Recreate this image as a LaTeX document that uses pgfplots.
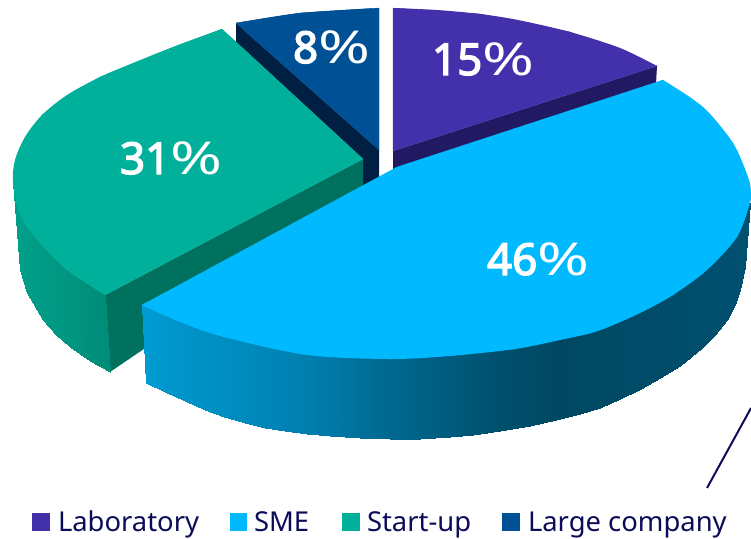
\documentclass[border=0pt]{standalone}
\usepackage{graphicx}
\usepackage{pgfplots}
\pgfplotsset{compat=1.18}
\usepackage{fontspec}
\setmainfont{Noto Sans}
\newfontfamily\labfont{Noto Sans}[FakeBold=3]
\newcommand{\pct}{\scalebox{1.42}[1.03]{\normalfont\fontsize{44}{50}\selectfont\%}}
\definecolor{cpurple}{HTML}{4330AB}
\definecolor{cpurpled}{HTML}{211A63}
\definecolor{cblue}{HTML}{00B9FF}
\definecolor{cgreen}{HTML}{00B09B}
\definecolor{cgreend}{HTML}{00705F}
\definecolor{cnavy}{HTML}{005095}
\definecolor{cnavyd}{HTML}{001F42}
\definecolor{ctext}{HTML}{0B0B5A}
\pgfplotstableread{
x y c
142 305 0
165 302 2.3
185 311 4.2
205 320 6.2
224 327 8.1
245 333 10.1
265 338 12.1
285 341 14.1
307 343 16.3
330 346 18.5
360 348 21.5
390 349 24.4
420 348 27.4
450 346 30.3
473 345 32.6
500 340 35.3
530 335 38.2
556 330 40.8
580 323 43.1
600 317 45.1
620 310 47.1
639 303 49
660 292 51
680 278 53
702 262 55.2
715 250 56.4
727 235 57.4
735 225 58.4
740 215 59.1
745 205 59.6
750 203 60
146 383 0
165 392 2.3
185 401 4.2
205 410 6.2
224 417 8.1
245 423 10.1
265 428 12.1
285 431 14.1
307 433.5 16.3
330 436 18.5
360 438 21.5
390 439 24.4
420 438.5 27.4
450 436.5 30.3
473 435 32.6
500 431 35.3
530 425.5 38.2
556 420 40.8
580 413.5 43.1
600 407.5 45.1
620 399 47.1
639 390 49
660 378 51
680 366 53
702 348 55.2
715 335 56.4
727 320 57.4
735 305 58.4
740 290 59.1
745 267 59.6
750 203 60
}\smeside
\pgfplotstableread{
x y c
13 182 70
30 215 74
42 235 78
55 250 82
67 262 86
85 275 93
105 295 100
20 270 70
27 293 74
43 320 78
56 335 82
70 347 86
90 361 93
110 372 100
}\startside
\begin{document}
\begin{tikzpicture}
\begin{axis}[scale only axis,width=751pt,height=538pt,xmin=0,xmax=751,ymin=0,ymax=538,
  y dir=reverse,axis lines=none,clip=true,
  point meta min=0,point meta max=100,
  colormap={side}{rgb255(0pt)=(0,155,210) rgb255(16pt)=(0,128,176) rgb255(24pt)=(0,105,145)
   rgb255(35pt)=(0,80,110) rgb255(41pt)=(0,72,98) rgb255(60pt)=(0,80,112)
   rgb255(70pt)=(0,160,138) rgb255(100pt)=(0,140,120)}]
\path (axis cs:0,0) rectangle (axis cs:751,538);
% Large company
\addplot[fill=cnavyd,draw=none] coordinates {(236,23)(379,150)(379,177)(363,190)(363,159)(236,42)} -- cycle;
\addplot[fill=cnavy,draw=cnavy,line width=0.2pt] coordinates {(236,23)(300,13)(379,8)(379,150)} -- cycle;
\addplot[fill=cnavy,draw=none,smooth] coordinates {(236,23)(300,13)(379,8)};
% Laboratory
\addplot[fill=cpurpled,draw=none] coordinates {(393,151)(657,66)(656,84)(393,172)} -- cycle;
\addplot[fill=cpurple,draw=cpurple,line width=0.2pt] coordinates {(393,8)(480,14)(570,32)(657,66)(393,151)} -- cycle;
\addplot[fill=cpurple,draw=none,smooth] coordinates {(393,8)(437,10)(480,14)(518,20)(570,32)(620,48)(657,66)};
% Start-up
\addplot[fill=cgreend,draw=none] coordinates {(105,295)(363,159)(363,184)(363,200)(110,372)} -- cycle;
\addplot[surf,shader=interp,mesh/rows=2,point meta=\thisrow{c}] table[x=x,y=y] {\startside};
\addplot[fill=cgreen,draw=cgreen,line width=0.2pt] coordinates {(222,29)(100,77)(42,115)(13,182)(40,243)(67,270)(105,295)(363,159)} -- cycle;
\addplot[fill=cgreen,draw=none,smooth] coordinates {(222,29)(178,45)(133,63)(100,77)(67,95)(42,115)(25,137)(15,160)(13,182)(20,215)(40,243)(67,270)(105,295)};
% SME
\addplot[surf,shader=interp,mesh/rows=2,point meta=\thisrow{c}] table[x=x,y=y] {\smeside};
\addplot[fill=cblue,draw=cblue,line width=0.2pt] coordinates {(142,305)(397,167)(663,80)(733,143)(750,190)(737,237)(673,295)(515,349)(390,359)(224,337)} -- cycle;
\addplot[fill=cblue,draw=none,smooth] coordinates {(663,80)(703,107)(733,143)(748,177)(751,192)(750,203)(737,237)(707,270)(673,295)(640,313)(598,331)(560,340)(515,349)(450,356)(390,359)(307,355)(224,337)(180,322)(142,305)};
% thin line
\addplot[color=ctext,line width=2pt] coordinates {(707,488)(751,408)};
% legend keys
\addplot[fill=cpurple,draw=none] coordinates {(32,513)(50,513)(50,531)(32,531)} -- cycle;
\addplot[fill=cblue,draw=none] coordinates {(229.5,513)(247,513)(247,531)(229.5,531)} -- cycle;
\addplot[fill=cgreen,draw=none] coordinates {(342,513)(360,513)(360,531)(342,531)} -- cycle;
\addplot[fill=cnavy,draw=none] coordinates {(502,513)(520,513)(520,531)(502,531)} -- cycle;
\begin{scope}[every node/.style={inner sep=0pt,outer sep=0pt,anchor=base west,text=ctext,font=\fontsize{27.4}{32}\selectfont}]
\node at (axis cs:58,531) {Laboratory};
\node at (axis cs:254,531) {SME};
\node at (axis cs:367,531) {Start-up};
\node at (axis cs:528,531) {Large company};
\end{scope}
\begin{scope}[every node/.style={inner sep=0pt,outer sep=0pt,anchor=base west,text=white,font=\labfont\fontsize{44}{50}\selectfont}]
\node at (axis cs:293,63) {8\pct};
\node at (axis cs:432,75) {15\pct};
\node at (axis cs:120,174) {31\pct};
\node at (axis cs:487,275) {46\pct};
\end{scope}
\end{axis}
\end{tikzpicture}
\end{document}
